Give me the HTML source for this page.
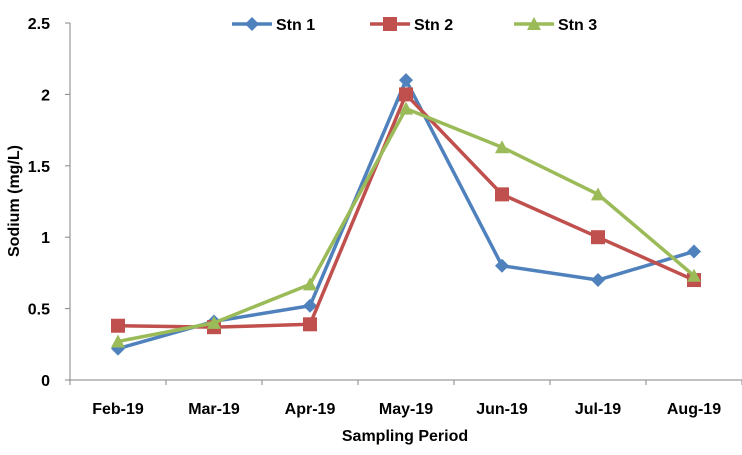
<!DOCTYPE html>
<html><head><meta charset="utf-8"><style>
body{margin:0;background:#fff}
svg text{font-family:"Liberation Sans",Arial,sans-serif;font-weight:bold;fill:#000}
</style></head><body>
<svg id="c" width="742" height="450"></svg>
<script>
const categories=["Feb-19","Mar-19","Apr-19","May-19","Jun-19","Jul-19","Aug-19"];
const stn1=[0.22,0.41,0.52,2.1,0.8,0.7,0.9];
const stn2=[0.38,0.37,0.39,2.0,1.3,1.0,0.7];
const stn3=[0.27,0.40,0.67,1.9,1.63,1.3,0.73];
const yTicks=[0,0.5,1,1.5,2,2.5];
const yTickLabels=["0","0.5","1","1.5","2","2.5"];
const seriesNames=["Stn 1","Stn 2","Stn 3"];
const NS="http://www.w3.org/2000/svg";
const svg=document.getElementById('c');
const X0=70,X1=742,Y0=380,Y1=23,YMAX=2.5;
const step=(X1-X0)/categories.length;
const xs=i=>X0+step*(i+0.5);
const ys=v=>Y0-(v/YMAX)*(Y0-Y1);
function mk(t,a,txt){const e=document.createElementNS(NS,t);for(const k in a)e.setAttribute(k,a[k]);if(txt!=null)e.textContent=txt;svg.appendChild(e);return e;}
const ax='#868686';
let e=mk('line',{x1:X0,y1:Y1,x2:X0,y2:Y0,stroke:ax,'stroke-width':1});

e=mk('line',{x1:X0,y1:Y0,x2:X1,y2:Y0,stroke:ax,'stroke-width':1});

yTicks.forEach((v,i)=>{
 mk('line',{x1:X0-5,y1:ys(v),x2:X0,y2:ys(v),stroke:ax});
 const t=mk('text',{x:50,y:ys(v)+6,'text-anchor':'end','font-size':16},yTickLabels[i]);
 
});
for(let i=0;i<=categories.length;i++){mk('line',{x1:X0+step*i,y1:Y0,x2:X0+step*i,y2:Y0+5,stroke:ax});}
categories.forEach((c,i)=>{
 const t=mk('text',{x:xs(i),y:414,'text-anchor':'middle','font-size':16},c);
 
});
e=mk('text',{x:405,y:441,'text-anchor':'middle','font-size':16},'Sampling Period');

e=mk('text',{x:0,y:0,'text-anchor':'middle','font-size':16,transform:'translate(19,201) rotate(-90)'},'Sodium (mg/L)');

const colors=['#4F81BD','#C0504D','#9BBB59'];
function marker(k,x,y){
 let m;
 if(k===0)m=mk('polygon',{points:`${x},${y-7} ${x+7},${y} ${x},${y+7} ${x-7},${y}`,fill:colors[0]});
 else if(k===1)m=mk('rect',{x:x-7,y:y-7,width:14,height:14,fill:colors[1]});
 else m=mk('polygon',{points:`${x},${y-7} ${x+7},${y+6} ${x-7},${y+6}`,fill:colors[2]});
 return m;
}
[stn1,stn2,stn3].forEach((s,k)=>{
 const p=mk('polyline',{points:s.map((v,i)=>xs(i)+','+ys(v)).join(' '),fill:'none',stroke:colors[k],'stroke-width':3.5,'stroke-linejoin':'round'});
 
 s.forEach((v,i)=>{const m=marker(k,xs(i),ys(v));
  });
});
const lx=[232,370,514];
seriesNames.forEach((n,k)=>{
 mk('line',{x1:lx[k],y1:24,x2:lx[k]+40,y2:24,stroke:colors[k],'stroke-width':3.5});
 marker(k,lx[k]+20,24);
 const t=mk('text',{x:lx[k]+44,y:30,'font-size':16},n);
 
});
</script>
</body></html>
